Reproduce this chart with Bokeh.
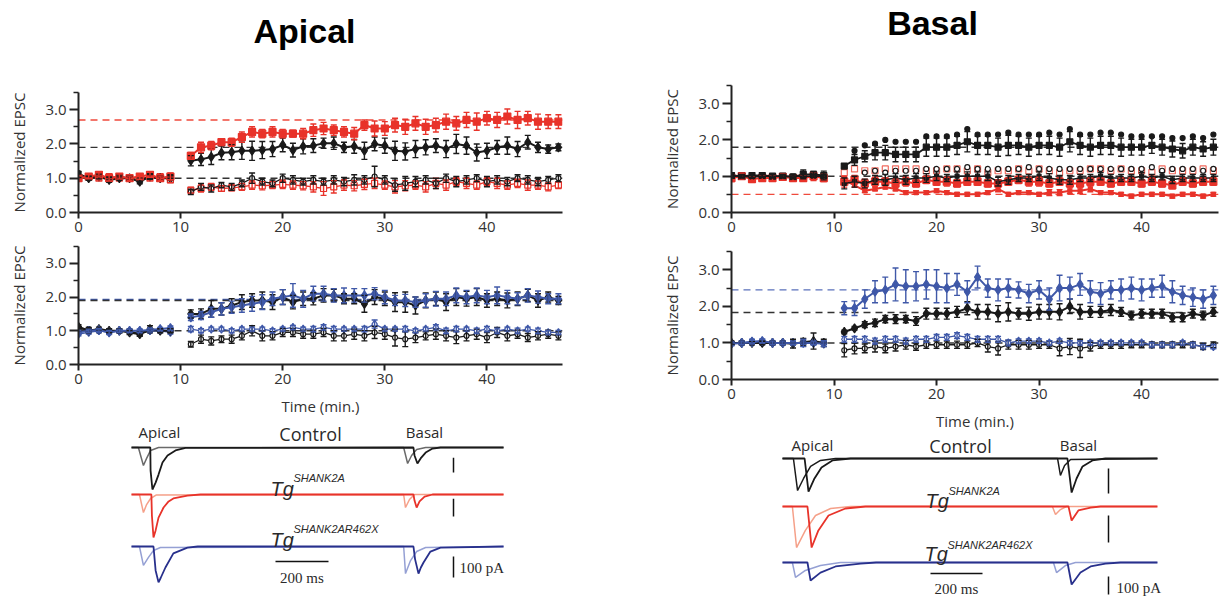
from bokeh.plotting import figure
from bokeh.layouts import column, row
from bokeh.models import Range1d, FixedTicker, NumeralTickFormatter, Whisker, TeeHead, ColumnDataSource, Span
from bokeh.embed import file_html
from bokeh.resources import INLINE
from bokeh.core.properties import value

# ---------------- DATA ----------------
T_PRE = [0, 1, 2, 3, 4, 5, 6, 7, 8, 9]
T_POST = [11, 12, 13, 14, 15, 16, 17, 18, 19, 20, 21, 22, 23, 24, 25, 26, 27, 28, 29, 30,
          31, 32, 33, 34, 35, 36, 37, 38, 39, 40, 41, 42, 43, 44, 45, 46, 47]
Y_TICKS = [0, 1, 2, 3]
X_TICKS = [0, 10, 20, 30, 40]

# --- Apical, Tg SHANK2A panel (top left) ---
AT_K_LTP_PRE = [1.10, 1.00, 1.05, 0.95, 1.00, 1.00, 0.90, 1.05, 1.00, 1.00]
AT_K_LTP_PRE_E = [0.08, 0.06, 0.07, 0.07, 0.06, 0.06, 0.06, 0.08, 0.06, 0.07]
AT_K_LTP = [1.51, 1.55, 1.62, 1.74, 1.76, 1.80, 1.80, 1.82, 1.85, 1.97, 1.82, 1.93, 1.95, 2.02, 2.02, 1.90, 1.93, 1.80, 2.00,
            1.95, 1.80, 1.78, 1.85, 1.90, 1.95, 1.85, 2.00, 1.95, 1.75, 1.80, 1.90, 1.95, 1.85, 2.05, 1.90, 1.85, 1.90]
AT_K_LTP_E = [0.15, 0.18, 0.22, 0.20, 0.22, 0.25, 0.28, 0.25, 0.22, 0.20, 0.20, 0.22, 0.20, 0.15, 0.18, 0.15, 0.20, 0.25, 0.20,
              0.22, 0.28, 0.25, 0.25, 0.22, 0.20, 0.25, 0.28, 0.25, 0.25, 0.22, 0.20, 0.25, 0.22, 0.20, 0.15, 0.12, 0.10]
AT_R_LTP_PRE = [1.00, 1.05, 1.10, 1.00, 1.05, 1.00, 1.05, 1.10, 1.00, 1.05]
AT_R_LTP_PRE_E = [0.08, 0.07, 0.06, 0.08, 0.07, 0.06, 0.08, 0.07, 0.06, 0.10]
AT_R_LTP = [1.65, 1.90, 1.95, 2.05, 2.05, 2.20, 2.35, 2.30, 2.35, 2.30, 2.30, 2.30, 2.40, 2.45, 2.40, 2.35, 2.30, 2.55, 2.45,
            2.45, 2.55, 2.50, 2.60, 2.50, 2.55, 2.65, 2.60, 2.70, 2.65, 2.75, 2.70, 2.80, 2.70, 2.75, 2.65, 2.65, 2.65]
AT_R_LTP_E = [0.10, 0.15, 0.12, 0.10, 0.12, 0.15, 0.15, 0.12, 0.15, 0.12, 0.10, 0.15, 0.18, 0.18, 0.15, 0.15, 0.18, 0.15, 0.22,
              0.20, 0.20, 0.22, 0.20, 0.22, 0.20, 0.22, 0.20, 0.22, 0.25, 0.20, 0.22, 0.22, 0.25, 0.20, 0.22, 0.20, 0.20]
AT_K_UN_PRE = [1.15, 1.00, 1.10, 1.00, 1.05, 1.00, 0.95, 1.05, 1.00, 1.05]
AT_K_UN_PRE_E = [0.05, 0.05, 0.05, 0.05, 0.05, 0.05, 0.05, 0.06, 0.05, 0.05]
AT_K_UN = [0.60, 0.75, 0.70, 0.80, 0.75, 0.85, 1.00, 0.90, 0.85, 1.00, 0.95, 0.90, 0.95, 0.90, 0.95, 0.90, 0.95, 0.95, 1.05,
           0.95, 0.80, 0.85, 0.90, 0.95, 0.85, 1.00, 0.90, 0.95, 1.00, 0.90, 0.95, 0.90, 1.00, 0.95, 0.90, 0.95, 1.00]
AT_K_UN_E = [0.08, 0.10, 0.10, 0.08, 0.10, 0.10, 0.15, 0.10, 0.10, 0.12, 0.12, 0.10, 0.12, 0.10, 0.12, 0.12, 0.15, 0.12, 0.30,
             0.12, 0.18, 0.20, 0.15, 0.12, 0.15, 0.12, 0.15, 0.12, 0.10, 0.15, 0.12, 0.12, 0.10, 0.12, 0.12, 0.10, 0.10]
AT_R_UN_PRE = [1.00, 1.05, 1.00, 1.05, 1.00, 1.00, 1.05, 1.00, 1.05, 0.95]
AT_R_UN_PRE_E = [0.05, 0.05, 0.05, 0.06, 0.05, 0.05, 0.06, 0.05, 0.05, 0.08]
AT_R_UN = [0.65, 0.70, 0.75, 0.70, 0.72, 0.75, 0.80, 0.78, 0.80, 0.82, 0.80, 0.78, 0.75, 0.70, 0.75, 0.80, 0.78, 0.82, 0.85,
           0.80, 0.75, 0.78, 0.80, 0.75, 0.85, 0.80, 0.90, 0.85, 0.80, 0.90, 0.85, 0.80, 0.85, 0.80, 0.80, 0.75, 0.80]
AT_R_UN_E = [0.08, 0.10, 0.10, 0.08, 0.08, 0.10, 0.12, 0.12, 0.10, 0.12, 0.12, 0.12, 0.15, 0.20, 0.18, 0.15, 0.15, 0.15, 0.15,
             0.12, 0.18, 0.15, 0.12, 0.15, 0.15, 0.15, 0.12, 0.15, 0.12, 0.12, 0.15, 0.12, 0.12, 0.15, 0.12, 0.12, 0.10]
AT_DASH = [2.7, 1.9, 1.0]

# --- Apical, Tg SHANK2AR462X panel (bottom left) ---
AX_K_LTP_PRE = [1.12, 1.00, 1.05, 1.00, 1.00, 0.95, 0.90, 1.05, 1.00, 1.00]
AX_K_LTP_PRE_E = [0.06, 0.06, 0.06, 0.06, 0.06, 0.06, 0.06, 0.10, 0.06, 0.06]
AX_K_LTP = [1.50, 1.50, 1.65, 1.65, 1.75, 1.85, 1.90, 1.90, 1.85, 2.00, 1.85, 1.95, 1.95, 2.05, 2.05, 1.95, 1.95, 1.80, 2.00,
            1.95, 1.85, 1.85, 1.75, 1.90, 1.95, 1.85, 2.00, 1.95, 2.00, 1.90, 1.95, 1.90, 1.95, 2.05, 1.90, 2.00, 1.90]
AX_K_LTP_E = [0.12, 0.15, 0.25, 0.18, 0.20, 0.22, 0.20, 0.25, 0.22, 0.22, 0.20, 0.20, 0.18, 0.20, 0.18, 0.15, 0.15, 0.25, 0.22,
              0.20, 0.28, 0.30, 0.25, 0.22, 0.20, 0.25, 0.25, 0.22, 0.25, 0.20, 0.20, 0.22, 0.20, 0.18, 0.20, 0.15, 0.12]
AX_B_LTP_PRE = [0.95, 1.00, 1.02, 0.95, 1.00, 1.00, 1.00, 1.02, 1.05, 1.08]
AX_B_LTP_PRE_E = [0.06, 0.05, 0.05, 0.06, 0.05, 0.05, 0.05, 0.06, 0.05, 0.06]
AX_B_LTP = [1.40, 1.45, 1.55, 1.65, 1.70, 1.75, 1.80, 1.85, 1.95, 2.00, 2.05, 1.95, 2.10, 2.10, 2.05, 2.05, 2.05, 2.05, 2.10,
            2.00, 1.90, 1.90, 1.85, 1.90, 1.95, 1.95, 2.05, 2.00, 2.05, 2.00, 2.05, 2.00, 1.95, 2.05, 2.00, 1.95, 1.95]
AX_B_LTP_E = [0.10, 0.12, 0.15, 0.18, 0.18, 0.20, 0.22, 0.22, 0.20, 0.22, 0.35, 0.25, 0.22, 0.22, 0.20, 0.22, 0.20, 0.20, 0.18,
              0.20, 0.15, 0.18, 0.15, 0.20, 0.22, 0.20, 0.22, 0.20, 0.22, 0.20, 0.25, 0.20, 0.18, 0.20, 0.18, 0.15, 0.15]
AX_B_UN_PRE = [0.90, 0.95, 1.00, 0.95, 1.00, 1.00, 1.00, 1.00, 1.00, 0.95]
AX_B_UN_PRE_E = [0.05, 0.05, 0.05, 0.05, 0.05, 0.05, 0.05, 0.05, 0.05, 0.05]
AX_B_UN = [1.05, 1.00, 1.05, 1.05, 1.00, 1.05, 1.05, 1.05, 1.00, 1.05, 1.10, 1.05, 1.05, 1.10, 1.05, 1.05, 1.05, 1.05, 1.20,
           1.05, 1.05, 1.05, 1.00, 1.05, 1.10, 1.00, 1.05, 1.05, 1.00, 1.05, 1.00, 1.05, 1.00, 1.05, 1.00, 0.95, 0.95]
AX_B_UN_E = [0.08, 0.06, 0.06, 0.06, 0.06, 0.06, 0.06, 0.06, 0.06, 0.06, 0.06, 0.06, 0.08, 0.08, 0.08, 0.06, 0.06, 0.08, 0.12,
             0.06, 0.06, 0.08, 0.06, 0.06, 0.08, 0.08, 0.08, 0.06, 0.08, 0.08, 0.08, 0.06, 0.08, 0.06, 0.08, 0.06, 0.06]
AX_K_UN_PRE = [1.05, 1.05, 1.00, 1.00, 1.00, 1.00, 0.90, 1.00, 1.00, 1.00]
AX_K_UN_PRE_E = [0.05, 0.05, 0.05, 0.05, 0.05, 0.05, 0.05, 0.05, 0.05, 0.05]
AX_K_UN = [0.60, 0.75, 0.70, 0.75, 0.75, 0.85, 1.00, 0.85, 0.85, 0.95, 0.95, 0.90, 0.90, 0.95, 0.85, 0.85, 0.90, 0.85, 0.95,
           0.90, 0.80, 0.75, 0.80, 0.85, 0.90, 0.85, 0.80, 0.85, 0.90, 0.80, 0.95, 0.85, 0.90, 0.80, 0.85, 0.90, 0.85]
AX_K_UN_E = [0.08, 0.12, 0.12, 0.10, 0.12, 0.12, 0.15, 0.15, 0.12, 0.12, 0.12, 0.12, 0.12, 0.12, 0.15, 0.15, 0.15, 0.15, 0.18,
             0.15, 0.25, 0.22, 0.15, 0.12, 0.15, 0.15, 0.18, 0.15, 0.15, 0.15, 0.15, 0.15, 0.12, 0.12, 0.12, 0.12, 0.12]
AX_DASH = [1.93, 1.9, 1.0]

# --- Basal, Tg SHANK2A panel (top right) ---
BT_K_LTP_PRE = [1.02, 1.00, 1.02, 1.02, 1.00, 1.00, 0.98, 1.05, 1.05, 1.02]
BT_K_LTP_PRE_E = [0.05, 0.05, 0.05, 0.05, 0.05, 0.05, 0.05, 0.12, 0.08, 0.12]
BT_K_LTP = [1.28, 1.45, 1.55, 1.65, 1.65, 1.60, 1.60, 1.60, 1.80, 1.80, 1.80, 1.85, 1.95, 1.85, 1.85, 1.80, 1.85, 1.85, 1.80,
            1.85, 1.85, 1.80, 1.95, 1.85, 1.80, 1.85, 1.85, 1.80, 1.80, 1.80, 1.85, 1.80, 1.75, 1.70, 1.80, 1.75, 1.80]
BT_K_LTP_E = [0.05, 0.15, 0.15, 0.20, 0.20, 0.20, 0.20, 0.20, 0.25, 0.25, 0.25, 0.25, 0.28, 0.25, 0.25, 0.25, 0.28, 0.25, 0.25,
              0.25, 0.25, 0.25, 0.28, 0.25, 0.25, 0.25, 0.25, 0.25, 0.22, 0.22, 0.22, 0.22, 0.22, 0.20, 0.22, 0.20, 0.22]
BT_K_TOP = [1.70, 1.85, 1.90, 2.00, 1.95, 1.95, 1.95, 2.10, 2.10, 2.10, 2.15, 2.30, 2.15, 2.15, 2.15, 2.20, 2.15, 2.15,
            2.15, 2.20, 2.15, 2.30, 2.15, 2.15, 2.20, 2.20, 2.15, 2.10, 2.10, 2.10, 2.10, 2.05, 2.05, 2.10, 2.05, 2.15]
BT_K_OPEN = [0.90, 0.95, 1.10, 1.15, 1.10, 1.15, 1.15, 1.15, 1.20, 1.20, 1.20, 1.20, 1.25, 1.20, 1.20, 1.20, 1.20, 1.20, 1.25,
             1.20, 1.20, 1.20, 1.20, 1.20, 1.20, 1.20, 1.20, 1.20, 1.20, 1.20, 1.25, 1.15, 1.20, 1.20, 1.20, 1.15, 1.20]
BT_R_OPEN = [1.10, 1.20, 1.15, 1.15, 1.20, 1.20, 1.20, 1.20, 1.15, 1.15, 1.20, 1.20, 1.15, 1.20, 1.10, 1.15, 1.15, 1.20, 1.15,
             1.20, 1.15, 1.10, 1.15, 1.15, 1.20, 1.20, 1.15, 1.20, 1.15, 1.15, 1.10, 1.20, 1.15, 1.15, 1.15, 1.20, 1.15]
BT_K_UN_PRE = [1.00, 1.00, 0.98, 1.00, 1.00, 1.00, 1.00, 1.00, 1.00, 1.00]
BT_K_UN_PRE_E = [0.04, 0.04, 0.04, 0.04, 0.04, 0.04, 0.04, 0.04, 0.04, 0.04]
BT_K_UN = [0.80, 0.85, 0.80, 0.90, 0.90, 0.95, 0.90, 0.95, 0.95, 1.00, 0.95, 1.00, 1.00, 1.00, 1.00, 0.85, 0.90, 0.95, 0.95,
           1.00, 0.95, 0.90, 0.90, 0.95, 0.95, 1.00, 0.95, 0.95, 0.95, 1.00, 0.95, 1.00, 0.90, 0.95, 0.95, 0.95, 0.95]
BT_K_UN_E = [0.15, 0.15, 0.12, 0.12, 0.15, 0.12, 0.12, 0.12, 0.12, 0.12, 0.10, 0.12, 0.12, 0.12, 0.12, 0.12, 0.12, 0.10, 0.10,
             0.12, 0.12, 0.12, 0.12, 0.10, 0.10, 0.10, 0.10, 0.10, 0.10, 0.10, 0.10, 0.10, 0.10, 0.10, 0.10, 0.10, 0.10]
BT_R_SQ_PRE = [0.95, 1.00, 0.92, 0.95, 0.95, 0.98, 0.95, 0.95, 1.00, 0.95]
BT_R_SQ_PRE_E = [0.10, 0.08, 0.08, 0.08, 0.08, 0.08, 0.08, 0.08, 0.12, 0.10]
BT_R_SQ = [0.85, 0.90, 0.80, 0.85, 0.85, 0.80, 0.85, 0.80, 0.90, 0.85, 0.85, 0.80, 0.85, 0.85, 0.80, 0.80, 0.85, 0.90, 0.85,
           0.85, 0.80, 0.85, 0.80, 0.80, 0.85, 0.85, 0.80, 0.85, 0.85, 0.80, 0.85, 0.80, 0.75, 0.85, 0.80, 0.85, 0.85]
BT_R_SQ_E = [0.15, 0.12, 0.12, 0.12, 0.10, 0.12, 0.12, 0.10, 0.10, 0.10, 0.12, 0.10, 0.10, 0.10, 0.10, 0.10, 0.10, 0.10, 0.12,
             0.12, 0.10, 0.10, 0.10, 0.10, 0.10, 0.10, 0.10, 0.10, 0.10, 0.10, 0.10, 0.10, 0.10, 0.10, 0.10, 0.10, 0.10]
BT_R_LTP = [0.90, 0.75, 0.60, 0.65, 0.70, 0.65, 0.55, 0.55, 0.55, 0.60, 0.55, 0.50, 0.50, 0.50, 0.55, 0.65, 0.50, 0.55, 0.55,
            0.50, 0.55, 0.55, 0.60, 0.60, 0.65, 0.55, 0.55, 0.50, 0.45, 0.50, 0.50, 0.50, 0.45, 0.50, 0.50, 0.45, 0.50]
BT_R_LTP_E = [0.05, 0.05, 0.05, 0.05, 0.05, 0.05, 0.05, 0.05, 0.05, 0.05, 0.05, 0.05, 0.05, 0.05, 0.05, 0.08, 0.05, 0.05, 0.05,
              0.05, 0.08, 0.08, 0.08, 0.08, 0.08, 0.05, 0.05, 0.05, 0.05, 0.05, 0.05, 0.05, 0.05, 0.05, 0.05, 0.05, 0.05]
BT_DASH = [1.8, 1.0, 0.5]

# --- Basal, Tg SHANK2AR462X panel (bottom right) ---
BX_B_LTP_PRE = [0.98, 1.00, 1.02, 1.05, 1.00, 1.00, 1.00, 1.00, 1.00, 0.98]
BX_B_LTP_PRE_E = [0.05, 0.05, 0.05, 0.05, 0.05, 0.05, 0.05, 0.10, 0.05, 0.08]
BX_B_LTP = [1.95, 1.95, 2.20, 2.40, 2.45, 2.60, 2.55, 2.55, 2.60, 2.55, 2.50, 2.60, 2.40, 2.80, 2.50, 2.45, 2.50, 2.45, 2.35,
            2.45, 2.20, 2.50, 2.50, 2.60, 2.40, 2.35, 2.45, 2.45, 2.50, 2.45, 2.50, 2.55, 2.40, 2.30, 2.25, 2.20, 2.30]
BX_B_LTP_E = [0.18, 0.20, 0.25, 0.30, 0.35, 0.45, 0.45, 0.40, 0.40, 0.45, 0.40, 0.30, 0.30, 0.30, 0.25, 0.30, 0.25, 0.22, 0.25,
              0.25, 0.30, 0.35, 0.30, 0.30, 0.30, 0.30, 0.25, 0.30, 0.30, 0.30, 0.25, 0.30, 0.30, 0.25, 0.25, 0.25, 0.25]
BX_K_LTP_PRE = [1.00, 1.00, 1.00, 1.00, 1.00, 1.00, 0.98, 1.02, 1.05, 1.00]
BX_K_LTP_PRE_E = [0.05, 0.05, 0.05, 0.05, 0.05, 0.05, 0.12, 0.10, 0.22, 0.10]
BX_K_LTP = [1.30, 1.40, 1.50, 1.55, 1.65, 1.65, 1.65, 1.60, 1.80, 1.80, 1.80, 1.85, 1.95, 1.85, 1.85, 1.80, 1.85, 1.80, 1.80,
            1.85, 1.85, 1.85, 2.00, 1.85, 1.85, 1.85, 1.90, 1.85, 1.75, 1.80, 1.80, 1.80, 1.70, 1.70, 1.80, 1.75, 1.85]
BX_K_LTP_E = [0.05, 0.05, 0.08, 0.10, 0.10, 0.12, 0.10, 0.12, 0.15, 0.15, 0.15, 0.15, 0.18, 0.20, 0.20, 0.22, 0.25, 0.15, 0.18,
              0.20, 0.20, 0.22, 0.20, 0.20, 0.15, 0.15, 0.15, 0.12, 0.12, 0.12, 0.12, 0.12, 0.12, 0.12, 0.12, 0.12, 0.12]
BX_B_UN_PRE = [0.98, 1.00, 1.05, 1.05, 1.00, 1.00, 1.00, 1.00, 1.00, 1.00]
BX_B_UN_PRE_E = [0.05, 0.05, 0.05, 0.05, 0.05, 0.05, 0.05, 0.05, 0.05, 0.05]
BX_B_UN = [1.10, 1.10, 1.10, 1.05, 1.10, 1.10, 1.05, 1.10, 1.10, 1.15, 1.15, 1.20, 1.15, 1.10, 1.10, 1.10, 1.00, 1.05, 1.05,
           1.05, 1.00, 1.05, 1.00, 1.00, 1.00, 1.00, 1.00, 1.00, 1.00, 1.00, 0.95, 0.95, 0.95, 1.00, 0.95, 0.90, 0.90]
BX_B_UN_E = [0.08, 0.08, 0.08, 0.08, 0.08, 0.08, 0.08, 0.08, 0.08, 0.08, 0.08, 0.08, 0.08, 0.08, 0.08, 0.08, 0.08, 0.06, 0.06,
             0.06, 0.06, 0.06, 0.06, 0.06, 0.06, 0.06, 0.06, 0.06, 0.06, 0.06, 0.06, 0.06, 0.06, 0.06, 0.06, 0.06, 0.06]
BX_K_UN_PRE = [1.00, 1.00, 1.00, 1.00, 1.00, 1.00, 1.00, 1.00, 1.00, 1.00]
BX_K_UN_PRE_E = [0.04, 0.04, 0.04, 0.04, 0.04, 0.04, 0.04, 0.04, 0.04, 0.04]
BX_K_UN = [0.80, 0.85, 0.85, 0.90, 0.85, 0.90, 0.95, 0.90, 0.95, 0.95, 0.95, 0.95, 0.95, 1.00, 0.90, 0.85, 0.95, 0.95, 0.95,
           0.95, 0.95, 0.85, 0.90, 0.85, 0.90, 0.95, 0.95, 0.95, 0.95, 0.95, 0.95, 0.95, 0.95, 0.95, 0.95, 0.90, 0.95]
BX_K_UN_E = [0.18, 0.15, 0.12, 0.15, 0.12, 0.12, 0.12, 0.10, 0.10, 0.10, 0.10, 0.10, 0.10, 0.10, 0.15, 0.18, 0.12, 0.12, 0.12,
             0.10, 0.10, 0.20, 0.22, 0.25, 0.12, 0.10, 0.10, 0.10, 0.08, 0.08, 0.08, 0.08, 0.08, 0.08, 0.08, 0.08, 0.08]
BX_DASH = [2.45, 1.83, 1.0]

# --- Example EPSC traces: time (ms) and current (pA) ---
LA_CTRL_PRE_T = [0, 26, 45, 57, 72, 102, 1027, 1042, 1057, 1076, 1110, 1404]
LA_CTRL_PRE_I = [0, 0, -86, -52, -14, 0, 0, -76, -38, -10, 0, 0]
LA_CTRL_POST_T = [0, 71, 72, 79, 91, 102, 117, 136, 166, 204, 1064, 1068, 1079, 1091, 1110, 1136, 1166, 1404]
LA_CTRL_POST_I = [0, 0, -110, -200, -167, -129, -71, -38, -14, -2, 0, -38, -76, -52, -24, -5, 0, 0]
LA_S2A_PRE_T = [0, 30, 45, 57, 72, 94, 1027, 1034, 1049, 1068, 1404]
LA_S2A_PRE_I = [0, 0, -86, -48, -19, -2, 0, -62, -24, 0, 0]
LA_S2A_POST_T = [0, 75, 77, 83, 91, 102, 121, 140, 158, 211, 260, 1064, 1068, 1076, 1087, 1106, 1136, 1404]
LA_S2A_POST_I = [0, 0, -100, -205, -171, -110, -62, -33, -19, -5, 0, 0, -29, -62, -33, -10, 0, 0]
LA_R462X_PRE_T = [0, 30, 45, 64, 83, 109, 1027, 1034, 1053, 1076, 1110, 1404]
LA_R462X_PRE_I = [0, 0, -90, -52, -19, -5, 0, -129, -67, -24, -5, 0]
LA_R462X_POST_T = [0, 83, 91, 102, 110, 128, 158, 211, 250, 1064, 1070, 1083, 1092, 1102, 1128, 1166, 1404]
LA_R462X_POST_I = [0, 0, -114, -171, -150, -100, -33, -5, 0, 0, -60, -129, -100, -76, -24, -5, 0]
RB_CTRL_PRE_T = [0, 42, 58, 81, 108, 146, 204, 1058, 1069, 1085, 1108, 1442]
RB_CTRL_PRE_I = [0, 0, -178, -111, -44, -11, 0, 0, -94, -39, -6, 0]
RB_CTRL_POST_T = [0, 85, 100, 123, 150, 192, 262, 1096, 1112, 1131, 1154, 1192, 1242, 1442]
RB_CTRL_POST_I = [0, 0, -184, -111, -50, -11, 0, 0, -189, -111, -44, -11, 0, 0]
RB_S2A_PRE_T = [0, 38, 54, 88, 127, 185, 262, 1038, 1050, 1069, 1092, 1442]
RB_S2A_PRE_I = [0, 0, -228, -133, -50, -11, 0, 0, -44, -17, 0, 0]
RB_S2A_POST_T = [0, 96, 112, 138, 177, 242, 319, 1100, 1112, 1138, 1185, 1223, 1442]
RB_S2A_POST_I = [0, 0, -228, -133, -50, -11, 0, 0, -78, -22, -6, 0, 0]
RB_R462X_PRE_T = [0, 38, 50, 88, 146, 223, 1042, 1054, 1088, 1127, 1442]
RB_R462X_PRE_I = [0, 0, -83, -44, -17, 0, 0, -56, -17, 0, 0]
RB_R462X_POST_T = [0, 96, 108, 146, 204, 300, 360, 1096, 1112, 1146, 1185, 1242, 1300, 1442]
RB_R462X_POST_I = [0, 0, -100, -56, -22, -6, 0, 0, -122, -56, -22, -6, 0, 0]
SCALE_MS = 200
SCALE_PA = 100
L_SMALL_BARS_PA = [70, 85]
R_SMALL_BARS_PA = [139, 150]

# ---------------- STYLE ----------------
FONT = "Open Sans"
BLACK = "#1a1a1a"
RED = "#e8332a"
BLUE = "#3f58a8"
LRED = "#f5a089"
LBLUE = "#95a0d4"
DBLUE = "#28308c"
GRAY = "#6a6a6a"
TXT = "#2a2a2a"

COMMON = dict(output_backend="svg", toolbar_location=None, frame_align=False)


def add_series(p, t, y, e, color, marker, size, fill, lw, connect=True):
    data = dict(t=t, y=y)
    if e is not None:
        data["lo"] = [a - b for a, b in zip(y, e)]
        data["up"] = [a + b for a, b in zip(y, e)]
    src = ColumnDataSource(data)
    if e is not None:
        w = Whisker(source=src, base="t", lower="lo", upper="up", line_color=color, line_width=1.4,
                    upper_head=TeeHead(size=6, line_color=color, line_width=1.4),
                    lower_head=TeeHead(size=6, line_color=color, line_width=1.4), level="glyph")
        p.add_layout(w)
    if connect:
        p.line("t", "y", source=src, line_color=color, line_width=lw)
    p.scatter("t", "y", source=src, marker=marker, size=size, fill_color=fill, line_color=color, line_width=1.2)


def make_panel(height, bl, br, bt, bb, xmax, dashes, xlabel=None):
    p = figure(width=610, height=height, x_range=Range1d(0, xmax), y_range=Range1d(0, 3.5),
               min_border_left=bl, min_border_right=br, min_border_top=bt, min_border_bottom=bb, **COMMON)
    p.outline_line_color = None
    p.xgrid.visible = False
    p.ygrid.visible = False
    for lvl, col in dashes:
        p.add_layout(Span(location=lvl, dimension="width", line_color=col, line_dash="7 5",
                          line_width=1.4, level="underlay"))
    xa = p.xaxis[0]
    xa.ticker = FixedTicker(ticks=X_TICKS, minor_ticks=[])
    ya = p.yaxis[0]
    ya.ticker = FixedTicker(ticks=Y_TICKS, minor_ticks=[0.5, 1.5, 2.5, 3.5])
    ya.formatter = NumeralTickFormatter(format="0.0")
    ya.axis_label = "Normalized EPSC"
    if xlabel:
        xa.axis_label = xlabel
    for ax in (xa, ya):
        ax.axis_line_width = 2
        ax.axis_line_color = "#222"
        ax.major_tick_line_width = 2
        ax.major_tick_line_color = "#222"
        ax.minor_tick_line_width = 1.5
        ax.minor_tick_line_color = "#222"
        ax.major_tick_in = 0
        ax.minor_tick_in = 0
        ax.major_label_text_font = FONT
        ax.major_label_text_font_size = "15px"
        ax.major_label_text_color = "#333"
        ax.axis_label_text_font = FONT
        ax.axis_label_text_font_size = "15px"
        ax.axis_label_text_font_style = "normal"
        ax.axis_label_text_color = "#333"
        ax.major_label_standoff = 3
    xa.axis_label_standoff = 9
    ya.axis_label_standoff = 13
    xa.major_tick_out = 6
    ya.major_tick_out = 9
    ya.minor_tick_out = 5
    return p


def pre_post(p, pre, pre_e, post, post_e, color, marker, size, fill, lw, connect=True):
    add_series(p, T_PRE, pre, pre_e, color, marker, size, fill, lw, connect)
    add_series(p, T_POST, post, post_e, color, marker, size, fill, lw, connect)


def title_fig(height, text, xfrac, base_y):
    f = figure(width=610, height=height, x_range=Range1d(0, 1), y_range=Range1d(height, 0),
               x_axis_type=None, y_axis_type=None, min_border=0, **COMMON)
    f.outline_line_color = None
    f.grid.visible = False
    f.text(x=[xfrac], y=[base_y], text=[text], text_font=value("Liberation Sans"), text_font_size="34px",
           text_font_style="bold", text_align="center", text_baseline="alphabetic", text_color="#000")
    return f


def trace_fig(height, col_x0, top_px, x0_px, ms_per_px, base_px, pa_per_px):
    xs = (col_x0 - x0_px) * ms_per_px
    xe = (col_x0 + 610 - x0_px) * ms_per_px
    yt = (base_px - top_px) * pa_per_px
    yb = (base_px - (top_px + height)) * pa_per_px
    f = figure(width=610, height=height, x_range=Range1d(xs, xe), y_range=Range1d(yb, yt),
               x_axis_type=None, y_axis_type=None, min_border=0, **COMMON)
    f.outline_line_color = None
    f.grid.visible = False
    X = lambda px: (px - x0_px) * ms_per_px
    Y = lambda py: (base_px - py) * pa_per_px
    return f, X, Y


def add_text(f, x, y, s, size, font=FONT, style="normal", align="center", baseline="middle"):
    f.text(x=[x], y=[y], text=[s], text_font=value(font), text_font_size=size, text_font_style=style,
           text_align=align, text_baseline=baseline, text_color=TXT)


# ---------------- LEFT COLUMN (Apical) ----------------
tL = title_fig(72, "Apical", 304 / 610, 30)

p1 = make_panel(168, 78, 48, 20, 28, 47.4, [(AT_DASH[0], "#ef4a3c"), (AT_DASH[1], "#333"), (AT_DASH[2], "#333")])
pre_post(p1, AT_R_UN_PRE, AT_R_UN_PRE_E, AT_R_UN, AT_R_UN_E, RED, "square", 6, "white", 1.3)
pre_post(p1, AT_K_UN_PRE, AT_K_UN_PRE_E, AT_K_UN, AT_K_UN_E, BLACK, "circle", 5, "white", 1.3)
pre_post(p1, AT_K_LTP_PRE, AT_K_LTP_PRE_E, AT_K_LTP, AT_K_LTP_E, BLACK, "diamond", 9, BLACK, 2)
pre_post(p1, AT_R_LTP_PRE, AT_R_LTP_PRE_E, AT_R_LTP, AT_R_LTP_E, RED, "square", 7, RED, 2)

p2 = make_panel(180, 78, 48, 6, 56, 47.4, [(AX_DASH[0], BLUE), (AX_DASH[1], "#333"), (AX_DASH[2], "#333")],
                xlabel="Time (min.)")
pre_post(p2, AX_K_UN_PRE, AX_K_UN_PRE_E, AX_K_UN, AX_K_UN_E, BLACK, "circle", 5, "white", 1.3)
pre_post(p2, AX_B_UN_PRE, AX_B_UN_PRE_E, AX_B_UN, AX_B_UN_E, BLUE, "diamond", 8, "white", 1.3)
pre_post(p2, AX_K_LTP_PRE, AX_K_LTP_PRE_E, AX_K_LTP, AX_K_LTP_E, BLACK, "diamond", 9, BLACK, 2)
pre_post(p2, AX_B_LTP_PRE, AX_B_LTP_PRE_E, AX_B_LTP, AX_B_LTP_E, BLUE, "diamond", 9, BLUE, 2)

trL, XL, YL = trace_fig(179, 0, 420, 131, 200 / 53, 447, 100 / 21)
offL = [YL(447), YL(494), YL(546)]
rowsL = [
    (LA_CTRL_PRE_T, LA_CTRL_PRE_I, GRAY, LA_CTRL_POST_T, LA_CTRL_POST_I, BLACK),
    (LA_S2A_PRE_T, LA_S2A_PRE_I, LRED, LA_S2A_POST_T, LA_S2A_POST_I, RED),
    (LA_R462X_PRE_T, LA_R462X_PRE_I, LBLUE, LA_R462X_POST_T, LA_R462X_POST_I, DBLUE),
]
for off, (t1, i1, c1, t2, i2, c2) in zip(offL, rowsL):
    trL.line(t1, [v + off for v in i1], line_color=c1, line_width=1.5)
    trL.line(t2, [v + off for v in i2], line_color=c2, line_width=1.8)
add_text(trL, XL(159), YL(431), "Apical", "15px")
add_text(trL, XL(310), YL(433), "Control", "18px")
add_text(trL, XL(424), YL(431), "Basal", "15px")
add_text(trL, XL(270), YL(488), "Tg", "20px", "Liberation Sans", "italic", "left", "alphabetic")
add_text(trL, XL(293), YL(477), "SHANK2A", "11px", "Liberation Sans", "italic", "left", "alphabetic")
add_text(trL, XL(270), YL(539), "Tg", "20px", "Liberation Sans", "italic", "left", "alphabetic")
add_text(trL, XL(293), YL(528), "SHANK2AR462X", "11px", "Liberation Sans", "italic", "left", "alphabetic")
trL.segment(x0=[XL(275)], y0=[YL(561)], x1=[XL(275) + SCALE_MS], y1=[YL(561)], line_color="#111", line_width=1.5)
add_text(trL, XL(275) + SCALE_MS / 2, YL(577), "200 ms", "15px", "Liberation Serif")
trL.segment(x0=[XL(453)], y0=[YL(577)], x1=[XL(453)], y1=[YL(577) + SCALE_PA], line_color="#111", line_width=1.5)
add_text(trL, XL(459), YL(567), "100 pA", "15px", "Liberation Serif", align="left")
for bot, h in zip([472, 516], L_SMALL_BARS_PA):
    trL.segment(x0=[XL(453)], y0=[YL(bot)], x1=[XL(453)], y1=[YL(bot) + h], line_color="#111", line_width=1.5)

left = column(tL, p1, p2, trL)

# ---------------- RIGHT COLUMN (Basal) ----------------
tR = title_fig(66, "Basal", 322 / 610, 22)

p3 = make_panel(176, 121, 2, 19, 30, 47.5, [(BT_DASH[0], "#333"), (BT_DASH[1], "#333"), (BT_DASH[2], "#ef4a3c")])
add_series(p3, T_POST, BT_R_OPEN, None, "#f06a5e", "square", 6, "white", 1, connect=False)
add_series(p3, T_POST, BT_K_OPEN, None, BLACK, "circle", 5, "white", 1, connect=False)
add_series(p3, T_POST[1:], BT_K_TOP, None, BLACK, "circle", 5, BLACK, 1, connect=False)
pre_post(p3, BT_R_SQ_PRE, BT_R_SQ_PRE_E, BT_R_SQ, BT_R_SQ_E, RED, "square", 7, RED, 2)
add_series(p3, T_POST, BT_R_LTP, BT_R_LTP_E, RED, "square", 4, RED, 2)
pre_post(p3, BT_K_UN_PRE, BT_K_UN_PRE_E, BT_K_UN, BT_K_UN_E, BLACK, "square", 4, BLACK, 1.5)
pre_post(p3, BT_K_LTP_PRE, BT_K_LTP_PRE_E, BT_K_LTP, BT_K_LTP_E, BLACK, "square", 6, BLACK, 1.8)

p4 = make_panel(191, 121, 2, 9, 51, 47.5, [(BX_DASH[0], "#5a70bb"), (BX_DASH[1], "#333"), (BX_DASH[2], "#333")],
                xlabel="Time (min.)")
pre_post(p4, BX_K_UN_PRE, BX_K_UN_PRE_E, BX_K_UN, BX_K_UN_E, BLACK, "circle", 5, "white", 1.3)
pre_post(p4, BX_B_UN_PRE, BX_B_UN_PRE_E, BX_B_UN, BX_B_UN_E, BLUE, "diamond", 8, "white", 1.3)
pre_post(p4, BX_K_LTP_PRE, BX_K_LTP_PRE_E, BX_K_LTP, BX_K_LTP_E, BLACK, "diamond", 9, BLACK, 2)
pre_post(p4, BX_B_LTP_PRE, BX_B_LTP_PRE_E, BX_B_LTP, BX_B_LTP_E, BLUE, "diamond", 9, BLUE, 2)

trR, XR, YR = trace_fig(166, 610, 433, 782, 200 / 52, 458, 100 / 18)
offR = [YR(458), YR(506), YR(562)]
rowsR = [
    (RB_CTRL_PRE_T, RB_CTRL_PRE_I, BLACK, RB_CTRL_POST_T, RB_CTRL_POST_I, BLACK),
    (RB_S2A_PRE_T, RB_S2A_PRE_I, LRED, RB_S2A_POST_T, RB_S2A_POST_I, RED),
    (RB_R462X_PRE_T, RB_R462X_PRE_I, LBLUE, RB_R462X_POST_T, RB_R462X_POST_I, DBLUE),
]
for off, (t1, i1, c1, t2, i2, c2) in zip(offR, rowsR):
    trR.line(t1, [v + off for v in i1], line_color=c1, line_width=1.5)
    trR.line(t2, [v + off for v in i2], line_color=c2, line_width=1.8)
add_text(trR, XR(812), YR(444), "Apical", "15px")
add_text(trR, XR(960), YR(445), "Control", "18px")
add_text(trR, XR(1078), YR(444), "Basal", "15px")
add_text(trR, XR(925), YR(500), "Tg", "20px", "Liberation Sans", "italic", "left", "alphabetic")
add_text(trR, XR(948), YR(490), "SHANK2A", "11px", "Liberation Sans", "italic", "left", "alphabetic")
add_text(trR, XR(924), YR(553), "Tg", "20px", "Liberation Sans", "italic", "left", "alphabetic")
add_text(trR, XR(947), YR(544), "SHANK2AR462X", "11px", "Liberation Sans", "italic", "left", "alphabetic")
trR.segment(x0=[XR(930)], y0=[YR(573)], x1=[XR(930) + SCALE_MS], y1=[YR(573)], line_color="#111", line_width=1.5)
add_text(trR, XR(930) + SCALE_MS / 2, YR(588), "200 ms", "15px", "Liberation Serif")
trR.segment(x0=[XR(1108)], y0=[YR(594)], x1=[XR(1108)], y1=[YR(594) + SCALE_PA], line_color="#111", line_width=1.5)
add_text(trR, XR(1116), YR(587), "100 pA", "15px", "Liberation Serif", align="left")
for bot, h in zip([493, 542], R_SMALL_BARS_PA):
    trR.segment(x0=[XR(1108)], y0=[YR(bot)], x1=[XR(1108)], y1=[YR(bot) + h], line_color="#111", line_width=1.5)

right = column(tR, p3, p4, trR)

layout = row(left, right)
open("out.html", "w").write(file_html(layout, INLINE))
